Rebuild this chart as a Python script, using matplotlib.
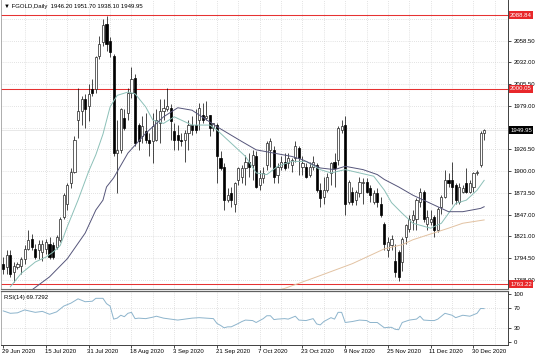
import numpy as np
import matplotlib
matplotlib.use("Agg")
import matplotlib.pyplot as plt
import matplotlib.transforms as mtransforms

plt.rcParams['font.family'] = ['Liberation Sans', 'DejaVu Sans']
plt.rcParams['font.size'] = 4.3

# DAILY CANDLES
opens = [1787.7, 1783.6, 1797.9, 1777.5, 1783.6, 1785.6, 1793.8, 1806.0, 1818.2, 1806.0,
         1804.0, 1801.9, 1806.0, 1812.1, 1810.1, 1808.0, 1816.2, 1844.7, 1860.9, 1885.4,
         1899.6, 1962.7, 1972.9, 1987.1, 1979.0, 1999.3, 1999.3, 2040.0, 2056.3, 2078.7,
         2058.3, 2040.0, 1922.0, 1926.0, 1964.7, 1970.8, 1995.2, 2013.6, 1956.6, 1942.3,
         1948.4, 1938.3, 1936.2, 1938.3, 1958.6, 1972.9, 1974.9, 1976.9, 1948.4, 1944.4,
         1938.3, 1938.3, 1946.4, 1956.6, 1956.6, 1962.7, 1968.8, 1964.7, 1968.8, 1952.5,
         1956.6, 1915.9, 1905.7, 1865.0, 1873.2, 1860.9, 1889.4, 1893.5, 1903.7, 1911.8,
         1907.7, 1917.9, 1883.3, 1891.5, 1907.7, 1926.0, 1926.0, 1895.5, 1905.7, 1911.8,
         1909.8, 1907.7, 1915.9, 1928.1, 1905.7, 1905.7, 1895.5, 1905.7, 1907.7, 1877.2,
         1869.1, 1877.2, 1897.6, 1911.8, 1913.8, 1950.5, 1956.6, 1863.0, 1875.2, 1865.0,
         1873.2, 1885.4, 1887.4, 1879.3, 1863.0, 1873.2, 1860.9, 1836.5, 1804.0, 1810.1,
         1791.8, 1801.9, 1789.7, 1820.2, 1830.4, 1840.6, 1842.6, 1863.0, 1875.2, 1836.5,
         1838.6, 1844.7, 1828.4, 1856.9, 1869.1, 1889.4, 1889.4, 1883.3, 1863.0, 1875.2,
         1885.4, 1875.2, 1881.3, 1897.6, 1907.7, 1946.2]
highs = [1795.8, 1804.0, 1804.0, 1789.7, 1789.7, 1795.8, 1810.1, 1828.4, 1824.3, 1812.1,
         1816.2, 1816.2, 1818.2, 1820.2, 1814.1, 1822.3, 1844.7, 1873.2, 1885.4, 1903.7,
         1942.3, 2001.4, 1991.2, 1993.2, 2005.4, 2011.5, 2040.0, 2064.4, 2084.8, 2088.8,
         2062.4, 2042.1, 1962.7, 1976.9, 1974.9, 2001.4, 2025.8, 2017.6, 1958.6, 1966.8,
         1970.8, 1946.4, 1970.8, 1974.9, 1987.1, 1987.1, 2001.4, 1981.0, 1958.6, 1956.6,
         1946.4, 1950.5, 1962.7, 1966.8, 1974.9, 1983.0, 1983.0, 1985.1, 1968.8, 1958.6,
         1958.6, 1924.0, 1909.8, 1879.3, 1881.3, 1887.4, 1905.7, 1907.7, 1920.0, 1922.0,
         1926.0, 1924.0, 1901.6, 1905.7, 1936.2, 1940.3, 1930.1, 1909.8, 1917.9, 1922.0,
         1922.0, 1915.9, 1936.2, 1930.1, 1917.9, 1909.8, 1911.8, 1917.9, 1909.8, 1885.4,
         1893.5, 1897.6, 1911.8, 1922.0, 1954.5, 1962.7, 1966.8, 1889.4, 1881.3, 1877.2,
         1893.5, 1891.5, 1891.5, 1883.3, 1877.2, 1879.3, 1869.1, 1838.6, 1820.2, 1822.3,
         1812.1, 1804.0, 1820.2, 1836.5, 1846.7, 1852.8, 1867.0, 1879.3, 1877.2, 1852.8,
         1852.8, 1846.7, 1856.9, 1871.1, 1901.6, 1897.6, 1911.8, 1885.4, 1885.4, 1883.3,
         1903.7, 1889.4, 1899.6, 1901.6, 1948.4, 1951.7]
lows = [1775.5, 1775.5, 1771.4, 1765.3, 1781.6, 1775.5, 1787.7, 1804.0, 1804.0, 1793.8,
        1793.8, 1791.7, 1799.9, 1793.8, 1793.8, 1806.0, 1814.1, 1842.6, 1852.8, 1879.3,
        1897.6, 1940.3, 1956.6, 1952.5, 1960.7, 1991.2, 1995.2, 2036.0, 2052.2, 2046.1,
        2038.0, 1917.9, 1873.2, 1922.0, 1950.5, 1962.7, 1989.1, 1930.1, 1926.0, 1934.2,
        1934.2, 1917.9, 1909.8, 1936.2, 1934.2, 1962.7, 1972.9, 1938.3, 1926.0, 1926.0,
        1930.1, 1911.8, 1926.0, 1944.4, 1946.4, 1950.5, 1958.6, 1962.7, 1942.3, 1948.4,
        1885.4, 1901.6, 1852.8, 1863.0, 1856.9, 1850.8, 1883.3, 1885.4, 1883.3, 1893.5,
        1889.4, 1879.3, 1877.2, 1885.4, 1901.6, 1905.7, 1885.4, 1885.4, 1901.6, 1901.6,
        1903.7, 1899.6, 1911.8, 1895.5, 1895.5, 1891.5, 1893.5, 1901.6, 1875.2, 1856.9,
        1860.9, 1875.2, 1883.3, 1881.3, 1907.7, 1946.4, 1846.7, 1860.9, 1858.9, 1858.9,
        1869.1, 1860.9, 1873.2, 1863.0, 1860.9, 1856.9, 1844.7, 1804.0, 1795.8, 1804.0,
        1771.4, 1767.3, 1779.5, 1812.1, 1826.3, 1828.4, 1828.4, 1856.9, 1838.6, 1828.4,
        1834.5, 1820.2, 1826.3, 1848.7, 1867.0, 1881.3, 1860.9, 1860.9, 1860.9, 1873.2,
        1873.2, 1873.2, 1875.2, 1895.5, 1905.7, 1938.1]
closes = [1781.6, 1797.9, 1775.5, 1785.6, 1787.7, 1793.8, 1806.0, 1816.2, 1808.0, 1795.8,
          1812.1, 1812.1, 1814.1, 1795.8, 1795.8, 1820.2, 1842.6, 1871.1, 1883.3, 1899.6,
          1938.3, 1972.9, 1987.1, 1974.9, 1993.2, 1995.2, 2038.0, 2054.3, 2076.7, 2054.3,
          2044.1, 1922.0, 1926.0, 1974.9, 1952.5, 1995.2, 2011.5, 1934.2, 1936.2, 1954.5,
          1938.3, 1934.2, 1954.5, 1962.7, 1972.9, 1976.9, 1979.0, 1960.7, 1938.3, 1938.3,
          1936.2, 1946.4, 1956.6, 1950.5, 1950.5, 1976.9, 1962.7, 1966.8, 1952.5, 1958.6,
          1917.9, 1903.7, 1865.0, 1871.1, 1865.0, 1885.4, 1903.7, 1903.7, 1911.8, 1905.7,
          1920.0, 1881.3, 1891.5, 1897.6, 1934.2, 1936.2, 1893.5, 1905.7, 1911.8, 1903.7,
          1915.9, 1913.8, 1930.1, 1915.9, 1909.8, 1893.5, 1905.7, 1911.8, 1877.2, 1867.0,
          1877.2, 1893.5, 1909.8, 1903.7, 1952.5, 1954.5, 1860.9, 1887.4, 1863.0, 1875.2,
          1887.4, 1887.4, 1875.2, 1871.1, 1873.2, 1863.0, 1846.7, 1812.1, 1814.1, 1818.2,
          1777.5, 1771.4, 1818.2, 1834.5, 1842.6, 1846.7, 1865.0, 1875.2, 1842.6, 1844.7,
          1842.6, 1828.4, 1854.8, 1869.1, 1889.4, 1885.4, 1881.3, 1865.0, 1881.3, 1879.3,
          1875.2, 1885.4, 1897.6, 1899.6, 1946.4, 1949.95]

# MOVING AVERAGES (read at sample bars)
fast_idx = [2, 5, 9, 12, 14, 16, 18, 21, 24, 26, 28, 30, 32, 35, 37, 40, 42, 45, 48, 50,
            53, 58, 60, 64, 68, 71, 74, 77, 81, 85, 89, 92, 96, 100, 104, 107, 109, 112, 115, 120,
            123, 125, 127, 130, 133, 135]
fast_val = [1760, 1776, 1790, 1796, 1802, 1810, 1833, 1865, 1900, 1920, 1945, 1978, 1992, 1996, 1994, 1978, 1962, 1958, 1966, 1962,
            1956, 1956, 1950, 1934, 1918, 1898, 1896, 1906, 1912, 1912, 1902, 1898, 1902, 1898, 1894, 1877, 1862, 1849, 1837, 1831,
            1837, 1849, 1861, 1865, 1877, 1889]
mid_idx = [8, 13, 18, 23, 26, 28, 29, 31, 35, 40, 45, 49, 53, 60, 67, 71, 76, 81, 84, 89,
           93, 96, 101, 105, 107, 111, 115, 120, 125, 129, 134, 135]
mid_val = [1756, 1772, 1794, 1825, 1853, 1865, 1881, 1892, 1922, 1946, 1966, 1977, 1974, 1954, 1936, 1926, 1922, 1918, 1914, 1904,
           1902, 1906, 1902, 1896, 1890, 1881, 1871, 1861, 1851, 1851, 1855, 1857]
slow_idx = [72, 77, 79, 88, 98, 107, 112, 115, 120, 125, 129, 135]
slow_val = [1750, 1756, 1758, 1772, 1788, 1806, 1811, 1817, 1824, 1831, 1837, 1841]

# RSI(14)
rsi_idx = [0, 2, 4, 6, 9, 11, 13, 15, 17, 19, 21, 23, 25, 26, 28, 29, 30, 31, 32, 33,
           34, 35, 36, 37, 38, 40, 42, 43, 45, 47, 49, 51, 53, 55, 57, 59, 60, 61, 62, 63,
           64, 66, 67, 68, 70, 71, 73, 74, 75, 76, 77, 79, 80, 82, 83, 85, 87, 88, 89, 90,
           92, 93, 94, 95, 96, 98, 100, 102, 103, 105, 107, 108, 109, 110, 111, 112, 114, 116, 117, 118,
           120, 121, 122, 124, 126, 127, 129, 131, 133, 134, 135]
rsi_val = [65, 60, 61, 67, 62, 64, 58, 63, 75, 81, 90, 84, 85, 91, 91, 80, 75, 48, 50, 56,
           53, 60, 62, 49, 50, 49, 52, 54, 50, 48, 46, 48, 50, 51, 50, 49, 39, 35, 30, 32,
           32, 39, 43, 46, 45, 41, 49, 55, 55, 47, 48, 49, 48, 54, 46, 45, 49, 38, 36, 43,
           51, 48, 62, 62, 41, 43, 46, 45, 41, 41, 30, 31, 31, 27, 26, 41, 46, 48, 54, 46,
           45, 45, 48, 60, 56, 51, 56, 54, 60, 70, 69.73]

price_grid = [2085.0, 2058.5, 2032.0, 2005.5, 1979.0, 1952.5, 1926.5, 1900.0,
              1873.5, 1847.0, 1821.0, 1794.5, 1768.0]
# 2085.00 and 1952.50 sit fully under the price boxes, so no label for them
price_ticks = [2058.5, 2032.0, 2005.5, 1979.0, 1926.5, 1900.0,
               1873.5, 1847.0, 1821.0, 1794.5, 1768.0]
levels = [2088.84, 2000.05, 1763.22]
last_price = 1949.95
header = "\u25bc FGOLD,Daily  1946.20 1951.70 1938.10 1949.95"

date_idx = [0, 12, 24, 36, 48, 60, 72, 84, 96, 108, 120, 132]
date_txt = ["29 Jun 2020", "15 Jul 2020", "31 Jul 2020", "18 Aug 2020", "3 Sep 2020",
            "21 Sep 2020", "7 Oct 2020", "23 Oct 2020", "9 Nov 2020", "25 Nov 2020",
            "11 Dec 2020", "30 Dec 2020"]

o = np.array(opens)
h = np.array(highs)
l = np.array(lows)
c = np.array(closes)
bars = np.arange(len(c))
up = c >= o

fig = plt.figure(figsize=(5.36, 3.57), dpi=100)
ax = fig.add_axes([0.002, 0.1905, 0.9458, 0.8095])
ax_r = fig.add_axes([0.002, 0.0336, 0.9458, 0.1513])

grid_kw = dict(color='#c8c8c8', lw=0.5, ls=(0, (1, 2)), zorder=0)
xmin, xmax = -0.6, 141.7

# MAIN PANEL
for t in price_grid:
    ax.axhline(t, **grid_kw)
for b in range(6, 142, 6):
    ax.axvline(b, **grid_kw)
    ax_r.axvline(b, **grid_kw)

for lv in levels:
    ax.axhline(lv, color='#e63232', lw=0.75, zorder=1)
ax.axhline(last_price, color='#dedede', lw=0.5, zorder=1)

ax.vlines(bars, l, h, color='black', lw=0.5, zorder=3)
lo = np.minimum(o, c)
ht = np.maximum(np.abs(c - o), 0.8)
ax.bar(bars[up], ht[up], bottom=lo[up], width=0.6, color='white',
       edgecolor='#222222', lw=0.5, zorder=4)
ax.bar(bars[~up], ht[~up], bottom=lo[~up], width=0.6, color='black',
       edgecolor='black', lw=0.5, zorder=4)

ax.plot(fast_idx, fast_val, color='#8cc0b8', lw=0.7, zorder=5)
ax.plot(mid_idx, mid_val, color='#55557a', lw=0.7, zorder=5)
ax.plot(slow_idx, slow_val, color='#e2c2a2', lw=0.7, zorder=5)

ax.set_xlim(xmin, xmax)
ax.set_ylim(1757.3, 2107.6)
ax.set_xticks([])
ax.yaxis.tick_right()
ax.set_yticks(price_ticks)
ax.set_yticklabels(['%.2f' % t for t in price_ticks])
ax.tick_params(axis='y', length=2, width=0.5, pad=2, labelsize=4.3)

ax.spines['top'].set_visible(False)
ax.spines['left'].set_color('#a0a0a0')
ax.spines['left'].set_linewidth(0.6)
ax.spines['right'].set_color('#404040')
ax.spines['right'].set_linewidth(0.7)
ax.spines['bottom'].set_color('#707070')
ax.spines['bottom'].set_linewidth(0.8)

ax.text(0.006, 0.979, header, transform=ax.transAxes, ha='left', va='center')

trans = mtransforms.blended_transform_factory(ax.transAxes, ax.transData)
for lv in levels:
    ax.text(1.004, lv, '%.2f' % lv, transform=trans, ha='left', va='center',
            color='white', clip_on=False, zorder=10,
            bbox=dict(boxstyle='square,pad=0.25', fc='#e8282b', ec='none'))
ax.text(1.004, last_price, '%.2f' % last_price, transform=trans, ha='left',
        va='center', color='white', clip_on=False, zorder=10,
        bbox=dict(boxstyle='square,pad=0.25', fc='black', ec='none'))

# RSI PANEL
for lv in [30, 70]:
    ax_r.axhline(lv, **grid_kw)
ax_r.plot(rsi_idx, rsi_val, color='#8db4cc', lw=0.7, zorder=3)
ax_r.set_xlim(xmin, xmax)
ax_r.set_ylim(-5.6, 106.2)
ax_r.yaxis.tick_right()
ax_r.set_yticks([0, 30, 70, 100])
ax_r.set_yticklabels(['0', '30', '70', '100'])
ax_r.tick_params(axis='y', length=2, width=0.5, pad=2, labelsize=4.3)
ax_r.set_xticks(date_idx)
ax_r.set_xticklabels([])
ax_r.tick_params(axis='x', length=2, width=0.5, direction='out')
ax_r.text(0.006, 0.88, 'RSI(14) 69.7292', transform=ax_r.transAxes, ha='left', va='center')

tr_x = mtransforms.blended_transform_factory(ax_r.transData, ax_r.transAxes)
for i, txt in zip(date_idx, date_txt):
    ax_r.text(i - 0.4, -0.115, txt, transform=tr_x, ha='left', va='center', clip_on=False)

ax_r.spines['top'].set_color('#606060')
ax_r.spines['top'].set_linewidth(0.9)
ax_r.spines['left'].set_color('#a0a0a0')
ax_r.spines['left'].set_linewidth(0.6)
ax_r.spines['right'].set_color('#404040')
ax_r.spines['right'].set_linewidth(0.7)
ax_r.spines['bottom'].set_color('#404040')
ax_r.spines['bottom'].set_linewidth(0.7)

fig.savefig('out.png', dpi=100)
